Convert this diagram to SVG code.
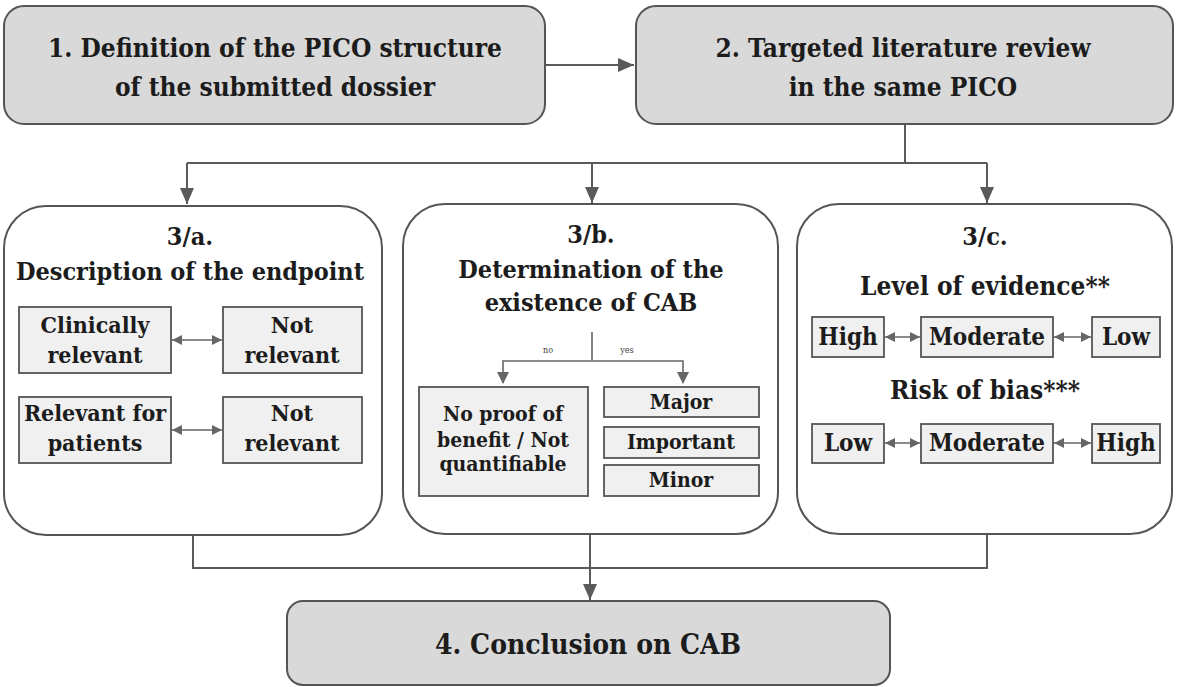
<svg xmlns="http://www.w3.org/2000/svg" width="1177" height="687" viewBox="0 0 1177 687">
<style>
.main{fill:#d9d9d9;stroke:#555;stroke-width:2}
.panel{fill:#fff;stroke:#555;stroke-width:2}
.sub{fill:#f0f0f0;stroke:#555;stroke-width:1.8}
text{font-family:'DejaVu Serif Condensed','DejaVu Serif',serif;font-stretch:condensed;font-weight:bold;fill:#1c1c1c;text-anchor:middle}
.conn{fill:none;stroke:#5a5a5a;stroke-width:2}
.thin{fill:none;stroke:#666;stroke-width:1.6}
text.small{font-size:9px;font-weight:normal;fill:#444}
</style>
<defs>
<marker id="ah" markerUnits="userSpaceOnUse" markerWidth="16" markerHeight="14" refX="16" refY="7" orient="auto">
<path d="M0,0 L16,7 L0,14 Z" fill="#5a5a5a"/>
</marker>
<marker id="ahs" markerUnits="userSpaceOnUse" markerWidth="10" markerHeight="10" refX="10" refY="5" orient="auto">
<path d="M0,0 L10,5 L0,10 Z" fill="#666"/>
</marker>
<marker id="ahs0" markerUnits="userSpaceOnUse" markerWidth="10" markerHeight="10" refX="0" refY="5" orient="auto">
<path d="M10,0 L0,5 L10,10 Z" fill="#666"/>
</marker>
</defs>

<g id="connectors">
<line class="conn" x1="545" y1="65" x2="634" y2="65" marker-end="url(#ah)"/>
<polyline class="conn" points="905,124 905,163 187,163"/>
<line class="conn" x1="987" y1="163" x2="905" y2="163"/>
<line class="conn" x1="187" y1="163" x2="187" y2="204" marker-end="url(#ah)"/>
<line class="conn" x1="592" y1="163" x2="592" y2="203" marker-end="url(#ah)"/>
<line class="conn" x1="987" y1="163" x2="987" y2="203" marker-end="url(#ah)"/>
<polyline class="conn" points="193,536 193,568 987,568 987,534"/>
<line class="conn" x1="590" y1="534" x2="590" y2="600" marker-end="url(#ah)"/>
</g>

<g id="node1">
<rect class="main" x="4" y="6" width="541" height="118" rx="20"/>
<text x="275" y="57" font-size="26">1. Definition of the PICO structure</text>
<text x="275" y="96" font-size="26">of the submitted dossier</text>
</g>

<g id="node2">
<rect class="main" x="636" y="6" width="537" height="118" rx="20"/>
<text x="903" y="57" font-size="26">2. Targeted literature review</text>
<text x="903" y="96" font-size="26">in the same PICO</text>
</g>

<g id="node3a">
<rect class="panel" x="4" y="206" width="378" height="329" rx="42"/>
<text x="190" y="245" font-size="25">3/a.</text>
<text x="190" y="280" font-size="25">Description of the endpoint</text>
<rect class="sub" x="19" y="307" width="152" height="66"/>
<text x="95" y="333" font-size="23">Clinically</text>
<text x="95" y="363" font-size="23">relevant</text>
<rect class="sub" x="223" y="307" width="139" height="66"/>
<text x="292" y="333" font-size="23">Not</text>
<text x="292" y="363" font-size="23">relevant</text>
<rect class="sub" x="19" y="397" width="152" height="66"/>
<text x="95" y="421" font-size="23">Relevant for</text>
<text x="95" y="451" font-size="23">patients</text>
<rect class="sub" x="223" y="397" width="139" height="66"/>
<text x="292" y="421" font-size="23">Not</text>
<text x="292" y="451" font-size="23">relevant</text>
<line class="thin" x1="172" y1="340" x2="222" y2="340" marker-start="url(#ahs0)" marker-end="url(#ahs)"/>
<line class="thin" x1="172" y1="430" x2="222" y2="430" marker-start="url(#ahs0)" marker-end="url(#ahs)"/>
</g>

<g id="node3b">
<rect class="panel" x="403" y="204" width="375" height="330" rx="42"/>
<text x="591" y="243" font-size="25">3/b.</text>
<text x="591" y="278" font-size="25">Determination of the</text>
<text x="591" y="311" font-size="25">existence of CAB</text>
<polyline class="thin" points="592,332 592,360"/>
<polyline class="thin" points="503,383 503,361 683,361 683,383"/>
<path d="M497,372 L509,372 L503,384 Z" fill="#666"/>
<path d="M677,372 L689,372 L683,384 Z" fill="#666"/>
<text class="small" x="548" y="353">no</text>
<text class="small" x="627" y="353">yes</text>
<rect class="sub" x="419" y="387" width="169" height="109"/>
<text x="503" y="421" font-size="21">No proof of</text>
<text x="503" y="447" font-size="21">benefit / Not</text>
<text x="503" y="471" font-size="21">quantifiable</text>
<rect class="sub" x="604" y="387" width="155" height="30"/>
<text x="681" y="409" font-size="21">Major</text>
<rect class="sub" x="604" y="427" width="155" height="31"/>
<text x="681" y="449" font-size="21">Important</text>
<rect class="sub" x="604" y="465" width="155" height="31"/>
<text x="681" y="487" font-size="21">Minor</text>
</g>

<g id="node3c">
<rect class="panel" x="797" y="204" width="375" height="330" rx="42"/>
<text x="985" y="245" font-size="25">3/c.</text>
<text x="985" y="295" font-size="26">Level of evidence**</text>
<rect class="sub" x="812" y="317" width="72" height="40"/>
<text x="848" y="345" font-size="24">High</text>
<rect class="sub" x="921" y="317" width="132" height="40"/>
<text x="987" y="345" font-size="24">Moderate</text>
<rect class="sub" x="1092" y="317" width="68" height="40"/>
<text x="1126" y="345" font-size="24">Low</text>
<line class="thin" x1="885" y1="337" x2="920" y2="337" marker-start="url(#ahs0)" marker-end="url(#ahs)"/>
<line class="thin" x1="1054" y1="337" x2="1091" y2="337" marker-start="url(#ahs0)" marker-end="url(#ahs)"/>
<text x="985" y="399" font-size="26">Risk of bias***</text>
<rect class="sub" x="812" y="424" width="72" height="39"/>
<text x="848" y="451" font-size="24">Low</text>
<rect class="sub" x="921" y="424" width="132" height="39"/>
<text x="987" y="451" font-size="24">Moderate</text>
<rect class="sub" x="1092" y="424" width="68" height="39"/>
<text x="1126" y="451" font-size="24">High</text>
<line class="thin" x1="885" y1="443" x2="920" y2="443" marker-start="url(#ahs0)" marker-end="url(#ahs)"/>
<line class="thin" x1="1054" y1="443" x2="1091" y2="443" marker-start="url(#ahs0)" marker-end="url(#ahs)"/>
</g>

<g id="node4">
<rect class="main" x="287" y="601" width="603" height="84" rx="16"/>
<text x="588" y="654" font-size="28">4. Conclusion on CAB</text>
</g>
</svg>
